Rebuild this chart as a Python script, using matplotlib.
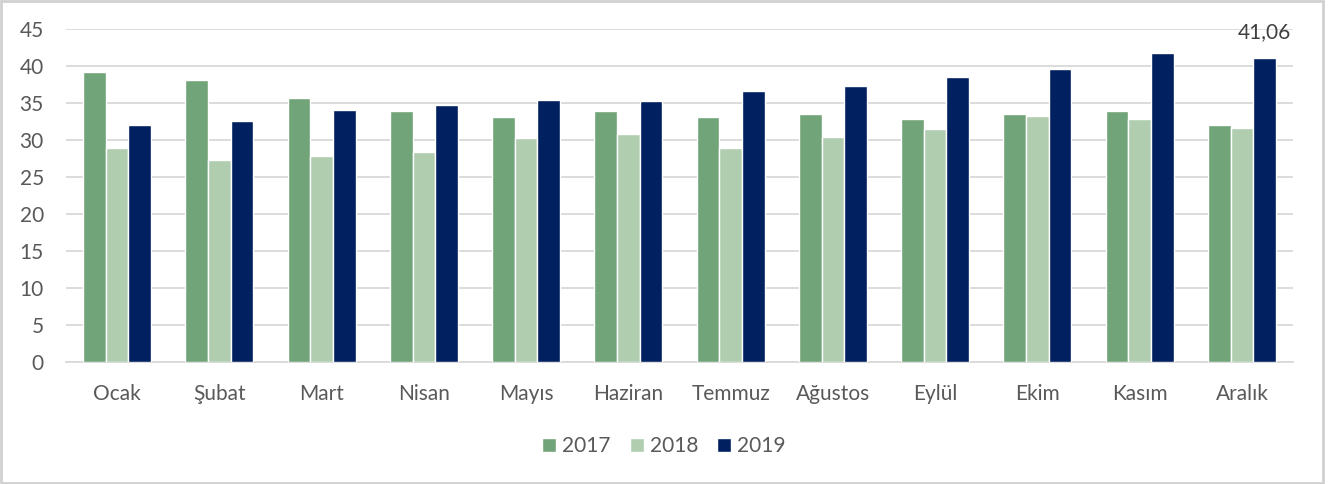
import matplotlib
matplotlib.use("Agg")
import matplotlib.pyplot as plt
import numpy as np
from matplotlib.patches import Rectangle

months = ["Ocak", "Şubat", "Mart", "Nisan", "Mayıs", "Haziran", "Temmuz",
          "Ağustos", "Eylül", "Ekim", "Kasım", "Aralık"]
s2017 = [39.2, 38.2, 35.7, 33.9, 33.2, 33.9, 33.1, 33.6, 32.8, 33.5, 34.0, 32.0]
s2018 = [29.0, 27.3, 27.8, 28.4, 30.3, 30.8, 29.0, 30.4, 31.5, 33.3, 32.9, 31.7]
s2019 = [32.0, 32.6, 34.1, 34.7, 35.4, 35.3, 36.6, 37.3, 38.6, 39.6, 41.85, 41.06]
series_names = ["2017", "2018", "2019"]
colors = ["#72a479", "#b0cdb0", "#002060"]
yticks = [0, 5, 10, 15, 20, 25, 30, 35, 40, 45]

plt.rcParams['font.family'] = ['Lato', 'DejaVu Sans']
FS = 15
fig = plt.figure(figsize=(13.28, 4.84), dpi=100)
ax = fig.add_axes([66/1328, 1-362/484, (1293-66)/1328, (362-29.3)/484])

x = np.arange(len(months))
w = 0.222
for i, (vals, name, c) in enumerate(zip([s2017, s2018, s2019], series_names, colors)):
    ax.bar(x + (i-1)*w, vals, width=w, color=c, edgecolor="white",
           linewidth=1.0, label=name, zorder=3)
    if i == 2:
        ax.annotate(f"{vals[-1]:.2f}".replace(".", ","), xy=(x[-1] + w, vals[-1]),
                    xytext=(0, 12), textcoords="offset points", ha="center",
                    va="bottom", fontsize=FS, color="#404040")

ax.set_xlim(-0.5, len(months)-0.5)
ax.set_ylim(0, 45)
ax.set_yticks(yticks)
ax.set_xticks(x)
ax.set_xticklabels(months)
ax.tick_params(axis="both", length=0, labelsize=FS, labelcolor="#595959")
ax.tick_params(axis="x", pad=16)
ax.tick_params(axis="y", pad=16)
ax.grid(axis="y", color="#d9d9d9", linewidth=1.3, zorder=0)
for s in ["top", "right", "left"]:
    ax.spines[s].set_visible(False)
ax.spines["bottom"].set_color("#d9d9d9")
ax.spines["bottom"].set_linewidth(1.3)

leg = fig.legend(loc="center", bbox_to_anchor=(0.5, 1-446/484), ncol=3,
                 frameon=False, fontsize=FS, handlelength=0.67,
                 handleheight=0.67, columnspacing=0.9, handletextpad=0.3)
for t in leg.get_texts():
    t.set_color("#595959")

fig.patches.append(Rectangle((0.001, 0.002), 0.9955, 0.996, transform=fig.transFigure,
                             fill=False, edgecolor="#d0d0d0", linewidth=2))
fig.savefig("out.png", dpi=100)
